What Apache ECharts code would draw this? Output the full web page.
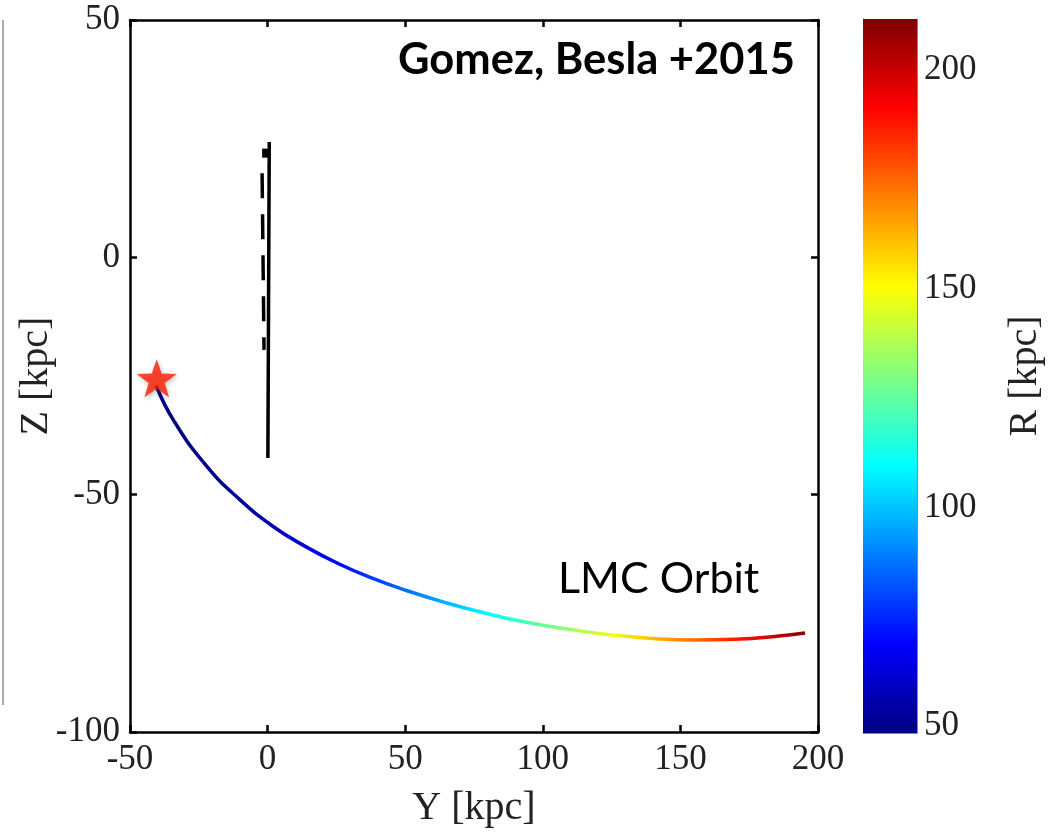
<!DOCTYPE html>
<html>
<head>
<meta charset="utf-8">
<script src="https://cdn.jsdelivr.net/npm/echarts@6/dist/echarts.min.js"></script>
<style>
html,body{margin:0;padding:0;background:#fff;}
#chart{width:1057px;height:834px;}
</style>
</head>
<body>
<div id="chart"></div>
<script>
// ---- data ----
var orbitY = [-40.5, -34, -22, -10, 2, 14, 26, 38, 50, 65, 80, 95, 110, 125, 140, 155, 170, 185, 195.3];
var orbitZ = [-27.0, -34.5, -44.1, -51.1, -56.7, -61.0, -64.6, -67.6, -70.1, -72.8, -75.1, -77.0, -78.4, -79.55, -80.3, -80.6, -80.45, -79.85, -79.15];
var orbitR = [48.7, 48.4, 49.3, 52.1, 56.7, 62.6, 69.6, 77.5, 86.1, 97.6, 109.7, 122.3, 135.1, 148.2, 161.4, 174.7, 188.1, 201.5, 210.7];
var solidLine = [[0.6, 24.3], [0.1, -42.3]];
var dashedLine = [[-2.0, 17.7], [-1.3, -19.5]];
var dashBlob = [[-0.9, 22.9], [-0.9, 21.0]];
var starPoint = [[-40.3, -25.5]];
var xTicks = [-50, 0, 50, 100, 150, 200];
var yTicks = [-100, -50, 0, 50];
var cbarMin = 48.4, cbarMax = 211.7;
var cbarTicks = [50, 100, 150, 200];

function jet(t) {
  t = Math.max(0, Math.min(1, t));
  function c(v) { return Math.round(255 * Math.max(0, Math.min(1, v))); }
  var r = c(1.5 - Math.abs(4 * t - 3));
  var g = c(1.5 - Math.abs(4 * t - 2));
  var b = c(1.5 - Math.abs(4 * t - 1));
  return 'rgb(' + r + ',' + g + ',' + b + ')';
}

var orbitData = orbitY.map(function (y, i) { return [y, orbitZ[i], orbitR[i]]; });
var yMinO = orbitY[0], yMaxO = orbitY[orbitY.length - 1];
var orbitStops = orbitY.map(function (y, i) {
  return { offset: (y - yMinO) / (yMaxO - yMinO), color: jet((orbitR[i] - cbarMin) / (cbarMax - cbarMin)) };
});
var cbarStops = [];
for (var k = 0; k <= 8; k++) { cbarStops.push({ offset: k / 8, color: jet(k / 8) }); }

var serif = 'Liberation Serif';
var axLine = { show: true, onZero: false, lineStyle: { color: '#000', width: 2.5 } };
var tickIn = { show: true, inside: true, length: 7, lineStyle: { color: '#000', width: 2.5 } };
var cbLine = { show: true, onZero: false, lineStyle: { color: '#888', width: 1 } };

var chart = echarts.init(document.getElementById('chart'));
chart.setOption({
  animation: false,
  backgroundColor: '#fff',
  grid: [
    { left: 130, top: 20, width: 688, height: 712, containLabel: false, outerBoundsMode: 'none' },
    { left: 863, top: 19, width: 54, height: 714, containLabel: false, outerBoundsMode: 'none' }
  ],
  xAxis: [
    { gridIndex: 0, type: 'value', min: -50, max: 200, interval: 50, position: 'bottom',
      axisLine: axLine, axisTick: tickIn, splitLine: { show: false },
      axisLabel: { fontFamily: serif, fontSize: 35, color: '#222', margin: 10 },
      name: 'Y [kpc]', nameLocation: 'middle', nameGap: 56,
      nameTextStyle: { fontFamily: serif, fontSize: 40, color: '#222' } },
    { gridIndex: 0, type: 'value', min: -50, max: 200, interval: 50, position: 'top',
      axisLine: axLine, axisTick: tickIn, splitLine: { show: false }, axisLabel: { show: false } },
    { gridIndex: 1, type: 'category', data: ['R'], position: 'bottom',
      axisLine: cbLine, axisTick: { show: false },
      axisLabel: { show: false }, splitLine: { show: false } }
  ],
  yAxis: [
    { gridIndex: 0, type: 'value', min: -100, max: 50, interval: 50, position: 'left',
      axisLine: axLine, axisTick: tickIn, splitLine: { show: false },
      axisLabel: { fontFamily: serif, fontSize: 35, color: '#222', margin: 10, padding: [12, 0, 0, 0] },
      name: 'Z [kpc]', nameLocation: 'middle', nameGap: 74, nameRotate: 90, nameMoveOverlap: false,
      nameTextStyle: { fontFamily: serif, fontSize: 40, color: '#222' } },
    { gridIndex: 0, type: 'value', min: -100, max: 50, interval: 50, position: 'right',
      axisLine: axLine, axisTick: tickIn, splitLine: { show: false }, axisLabel: { show: false } },
    { gridIndex: 1, type: 'value', min: cbarMin, max: cbarMax, position: 'left',
      axisLine: cbLine,
      axisTick: { show: true, inside: true, length: 5, customValues: cbarTicks, lineStyle: { color: '#333', width: 1.5 } },
      axisLabel: { show: false }, splitLine: { show: false } },
    { gridIndex: 1, type: 'value', min: cbarMin, max: cbarMax, position: 'right',
      axisLine: cbLine,
      axisTick: { show: true, inside: true, length: 5, customValues: cbarTicks, lineStyle: { color: '#333', width: 1.5 } },
      axisLabel: { show: true, customValues: cbarTicks, fontFamily: serif, fontSize: 35, color: '#222', margin: 7, padding: [10, 0, 0, 0] },
      splitLine: { show: false },
      name: 'R [kpc]', nameLocation: 'middle', nameGap: 88, nameRotate: 90,
      nameTextStyle: { fontFamily: serif, fontSize: 40, color: '#222' } }
  ],
  series: [
    { type: 'bar', xAxisIndex: 2, yAxisIndex: 3, data: [cbarMax], barWidth: '100%', silent: true,
      itemStyle: { color: { type: 'linear', x: 0, y: 1, x2: 0, y2: 0, colorStops: cbarStops } } },
    { type: 'line', xAxisIndex: 0, yAxisIndex: 0, data: solidLine, symbol: 'none',
      lineStyle: { color: '#000', width: 3.5 } },
    { type: 'line', xAxisIndex: 0, yAxisIndex: 0, data: dashedLine, symbol: 'none',
      lineStyle: { color: '#000', width: 3.5, type: [25, 16] } },
    { type: 'line', xAxisIndex: 0, yAxisIndex: 0, data: dashBlob, symbol: 'none',
      lineStyle: { color: '#000', width: 6 } },
    { type: 'line', xAxisIndex: 0, yAxisIndex: 0, data: orbitData, symbol: 'none',
      smooth: 0.5,
      lineStyle: { width: 3.5, color: { type: 'linear', x: 0, y: 0, x2: 1, y2: 0, colorStops: orbitStops } } },
    { type: 'scatter', xAxisIndex: 0, yAxisIndex: 0, data: starPoint,
      symbol: 'path://M0,-10 L2.35,-3.24 L9.51,-3.09 L3.8,1.24 L5.88,8.09 L0,4 L-5.88,8.09 L-3.8,1.24 L-9.51,-3.09 L-2.35,-3.24 Z',
      symbolSize: [40, 38], z: 5,
      itemStyle: { color: '#ff1e00', shadowColor: 'rgba(0,0,0,0.3)', shadowBlur: 4, shadowOffsetX: 1, shadowOffsetY: 2 } }
  ],
  graphic: [
    { type: 'line', shape: { x1: 3, y1: 20, x2: 3, y2: 705 }, style: { stroke: '#aaa', lineWidth: 2 } },
    { type: 'text', x: 398, y: 38, style: { text: 'Gomez, Besla +2015', font: 'bold 43.5px Lato', fill: '#000', textVerticalAlign: 'top' } },
    { type: 'text', x: 558, y: 558, style: { text: 'LMC Orbit', font: '43px Lato', fill: '#000', textVerticalAlign: 'top' } }
  ]
});
</script>
</body>
</html>
